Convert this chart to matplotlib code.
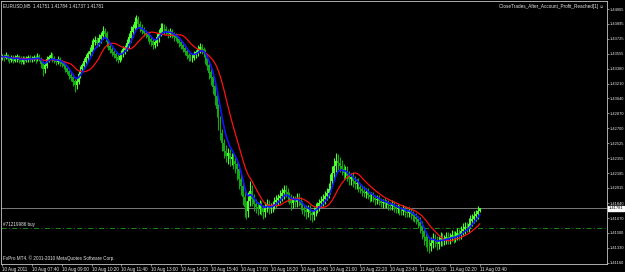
import matplotlib
matplotlib.use("Agg")
import matplotlib.pyplot as plt
import matplotlib.transforms as mtransforms
import numpy as np
import pandas as pd

# EURUSD M5 bars, prices given in 1e-5 above 1.40000
CLOSE_PTS = [
    3520, 3509, 3532, 3497, 3486, 3509, 3474, 3497, 3520, 3486, 3463, 3497, 3474, 3486, 3509, 3486,
    3497, 3509, 3486, 3520, 3497, 3440, 3372, 3417, 3486, 3509, 3532, 3497, 3474, 3463, 3486, 3451,
    3440, 3417, 3383, 3349, 3303, 3280, 3234, 3189, 3234, 3314, 3372, 3417, 3463, 3509, 3554, 3577,
    3646, 3692, 3703, 3680, 3726, 3760, 3806, 3783, 3692, 3635, 3600, 3566, 3543, 3509, 3486, 3520,
    3554, 3600, 3623, 3669, 3737, 3806, 3852, 3909, 3943, 3897, 3852, 3817, 3794, 3772, 3749, 3714,
    3692, 3657, 3680, 3737, 3794, 3840, 3852, 3829, 3806, 3783, 3806, 3772, 3749, 3737, 3714, 3680,
    3646, 3612, 3577, 3532, 3509, 3497, 3509, 3543, 3566, 3600, 3623, 3600, 3566, 3497, 3417, 3337,
    3280, 3177, 3063, 2914, 2777, 2640, 2526, 2434, 2377, 2411, 2343, 2366, 2320, 2286, 2229, 2114,
    2034, 1909, 1794, 1749, 1863, 1977, 1886, 1829, 1794, 1772, 1817, 1772, 1737, 1794, 1829, 1783,
    1794, 1817, 1851, 1874, 1897, 1920, 1954, 1989, 1966, 1920, 1886, 1840, 1874, 1851, 1897, 1863,
    1817, 1783, 1760, 1737, 1772, 1726, 1703, 1749, 1783, 1806, 1840, 1863, 1886, 1920, 1954, 2000,
    2091, 2183, 2263, 2320, 2297, 2263, 2229, 2183, 2206, 2149, 2114, 2137, 2091, 2057, 2069, 2023,
    2000, 1977, 1954, 1966, 1931, 1909, 1920, 1897, 1874, 1886, 1863, 1840, 1851, 1829, 1840, 1817,
    1806, 1829, 1794, 1772, 1783, 1760, 1749, 1772, 1737, 1726, 1749, 1714, 1691, 1680, 1657, 1623,
    1577, 1520, 1451, 1406, 1371, 1349, 1383, 1429, 1406, 1371, 1406, 1440, 1406, 1429, 1451, 1429,
    1451, 1474, 1440, 1463, 1497, 1474, 1520, 1543, 1566, 1554, 1600, 1634, 1657, 1691, 1714, 1751,
    1781,
]
UP_WICK = [
    30, 25, 40, 20, 35, 30, 25, 45, 30, 20, 35, 30, 25, 40, 30, 25,
    35, 30, 25, 40, 30, 20, 25, 45, 40, 30, 35, 25, 30, 20, 35, 30,
    25, 30, 20, 30, 25, 35, 30, 25, 40, 45, 35, 30, 40, 45, 35, 50,
    60, 45, 50, 40, 55, 45, 60, 40, 35, 30, 40, 35, 30, 25, 35, 40,
    40, 45, 35, 50, 55, 60, 45, 70, 50, 40, 35, 45, 40, 35, 30, 40,
    40, 35, 45, 50, 45, 60, 50, 40, 45, 35, 40, 35, 30, 40, 35, 30,
    30, 35, 40, 30, 25, 35, 40, 45, 35, 50, 55, 40, 35, 45, 40, 50,
    60, 55, 50, 70, 65, 60, 55, 50, 75, 60, 55, 50, 45, 60, 50, 55,
    70, 60, 80, 75, 110, 120, 70, 60, 55, 65, 60, 50, 45, 60, 55, 50,
    45, 50, 55, 60, 50, 70, 65, 60, 55, 45, 50, 55, 45, 50, 60, 55,
    50, 45, 40, 55, 50, 45, 40, 50, 55, 45, 50, 55, 60, 65, 55, 70,
    80, 85, 90, 100, 80, 75, 70, 60, 65, 55, 60, 50, 55, 60, 50, 55,
    50, 45, 55, 50, 45, 40, 50, 45, 40, 45, 50, 40, 35, 45, 40, 35,
    40, 45, 35, 40, 45, 35, 40, 45, 40, 35, 45, 40, 35, 40, 45, 40,
    60, 55, 50, 45, 60, 55, 70, 65, 60, 55, 60, 65, 55, 50, 60, 55,
    50, 55, 45, 60, 55, 50, 60, 65, 55, 60, 65, 70, 55, 60, 50, 55,
    3,
]
DN_WICK = [
    25, 35, 20, 30, 40, 25, 30, 20, 35, 45, 25, 30, 35, 20, 25, 30,
    30, 25, 35, 20, 30, 50, 70, 35, 25, 30, 20, 35, 30, 40, 25, 35,
    35, 40, 45, 30, 40, 35, 50, 80, 40, 30, 35, 30, 25, 30, 35, 25,
    40, 50, 35, 45, 40, 50, 35, 55, 60, 45, 40, 35, 40, 45, 35, 30,
    35, 40, 45, 35, 50, 45, 55, 40, 60, 50, 45, 40, 35, 40, 45, 50,
    50, 45, 40, 35, 45, 40, 35, 45, 40, 50, 35, 40, 45, 35, 40, 45,
    40, 45, 35, 40, 45, 30, 35, 30, 40, 35, 40, 45, 50, 60, 55, 70,
    80, 90, 100, 85, 95, 80, 90, 75, 70, 85, 80, 70, 90, 100, 120, 110,
    100, 90, 110, 95, 70, 60, 80, 75, 70, 65, 60, 70, 75, 55, 60, 65,
    55, 50, 45, 50, 60, 55, 50, 65, 60, 70, 55, 75, 50, 55, 60, 55,
    60, 70, 65, 75, 60, 80, 75, 60, 55, 50, 55, 45, 50, 55, 45, 50,
    60, 55, 70, 65, 80, 70, 65, 75, 60, 55, 70, 60, 65, 55, 60, 50,
    45, 50, 40, 55, 45, 50, 45, 40, 50, 45, 40, 45, 50, 45, 40, 50,
    45, 40, 50, 45, 40, 50, 45, 40, 55, 50, 45, 50, 55, 60, 55, 70,
    80, 90, 85, 70, 75, 80, 60, 55, 65, 70, 60, 55, 60, 50, 55, 60,
    55, 50, 60, 45, 50, 55, 50, 45, 55, 50, 45, 50, 55, 45, 50, 55,
    14,
]
FIRST_OPEN_PTS = 3509

X_LABELS = ["10 Aug 2011", "10 Aug 07:40", "10 Aug 09:00", "10 Aug 10:20", "10 Aug 11:40",
            "10 Aug 13:00", "10 Aug 14:20", "10 Aug 15:40", "10 Aug 17:00", "10 Aug 18:20",
            "10 Aug 19:40", "10 Aug 21:00", "10 Aug 22:20", "10 Aug 23:40", "11 Aug 01:00",
            "11 Aug 02:20", "11 Aug 03:40"]
LABEL_EVERY = 16  # bars between time labels
Y_TICKS = [1.41160, 1.41330, 1.41500, 1.41670, 1.41840, 1.42015, 1.42185, 1.42355, 1.42525,
           1.42700, 1.42870, 1.43040, 1.43210, 1.43380, 1.43555, 1.43725, 1.43895, 1.44065]
BID = 1.41781
ORDER_PRICE = 1.41559
ORDER_LABEL = "#71219986 buy"
TITLE_LEFT = "EURUSD,M5  1.41751 1.41784 1.41737 1.41781"
TITLE_RIGHT = "CloseTrades_After_Account_Profit_Reached[1] \u263a"
COPYRIGHT = "FxPro MT4. \u00a9 2001-2010 MetaQuotes Software Corp."

plt.rcParams["font.family"] = ["Liberation Sans", "DejaVu Sans"]
FS = 3.3
FS_Y = 2.9
TXT = "#e8e8e8"
FRAME = "#c8c8c8"
UP_COL = "#4cff2e"
DN_COL = "#16a816"

close = 1.4 + np.array(CLOSE_PTS) / 1e5
opn = 1.4 + np.r_[FIRST_OPEN_PTS, CLOSE_PTS[:-1]] / 1e5
high = np.maximum(opn, close) + np.array(UP_WICK) / 1e5
low = np.minimum(opn, close) - np.array(DN_WICK) / 1e5
idx = np.arange(len(close))

fast = pd.Series(close).ewm(span=6, adjust=False).mean()
slow = pd.Series(close).rolling(14, min_periods=1).mean()

fig = plt.figure(figsize=(6.25, 2.72), dpi=100, facecolor="black")
ax = fig.add_axes([1 / 625, 8 / 272, 606 / 625, 263 / 272], facecolor="black")

up = close >= opn
cols = np.where(up, UP_COL, DN_COL)
ax.vlines(idx, low, high, colors=cols, lw=0.8, zorder=2)
ax.bar(idx, np.abs(close - opn) + 0.00002, bottom=np.minimum(opn, close),
       width=0.9, color=cols, lw=0, zorder=2)

ax.plot(idx, slow, color="#ff1010", lw=0.9, zorder=3)
ax.plot(idx, fast, color="#1414ff", lw=1.2, zorder=4)

ax.axhline(BID, color="#8c8c8c", lw=0.6, zorder=1)
ax.axhline(ORDER_PRICE, color="#1e9e1e", lw=0.6, ls=(0, (6, 3, 1, 3)), zorder=1)

ax.set_xlim(-0.54, 324.2)
ax.set_ylim(1.41143, 1.44157)

for s in ax.spines.values():
    s.set_color(FRAME)
    s.set_linewidth(0.6)

ax.yaxis.tick_right()
ax.set_yticks(Y_TICKS)
ax.set_yticklabels([f"{v:.5f}" for v in Y_TICKS])
ax.tick_params(axis="y", colors=FRAME, labelcolor=TXT, labelsize=FS_Y, length=1.2,
               width=0.5, pad=1.0, direction="out")

xt = [i * LABEL_EVERY for i in range(len(X_LABELS))]
ax.set_xticks(xt)
ax.set_xticklabels(X_LABELS, ha="left")
ax.tick_params(axis="x", colors=FRAME, labelcolor=TXT, labelsize=FS, length=1.5,
               width=0.5, pad=1.0, direction="out")

tr = mtransforms.blended_transform_factory(ax.transAxes, ax.transData)
ax.text(1.003, BID, f"{BID:.5f}", transform=tr, fontsize=FS_Y, color="black", va="center",
        ha="left", bbox=dict(boxstyle="square,pad=0.12", fc="white", ec="white"), clip_on=False)
ax.text(0.004, ORDER_PRICE + 0.00012, ORDER_LABEL, transform=tr, fontsize=FS, color=TXT,
        va="bottom", ha="left")

ax.text(0.004, 0.99, TITLE_LEFT, transform=ax.transAxes, fontsize=FS, color=TXT,
        va="top", ha="left")
ax.text(0.995, 0.99, TITLE_RIGHT, transform=ax.transAxes, fontsize=FS, color=TXT,
        va="top", ha="right")
ax.text(0.004, 0.01, COPYRIGHT, transform=ax.transAxes, fontsize=FS, color=TXT,
        va="bottom", ha="left")

fig.savefig("out.png", dpi=100, facecolor="black")
